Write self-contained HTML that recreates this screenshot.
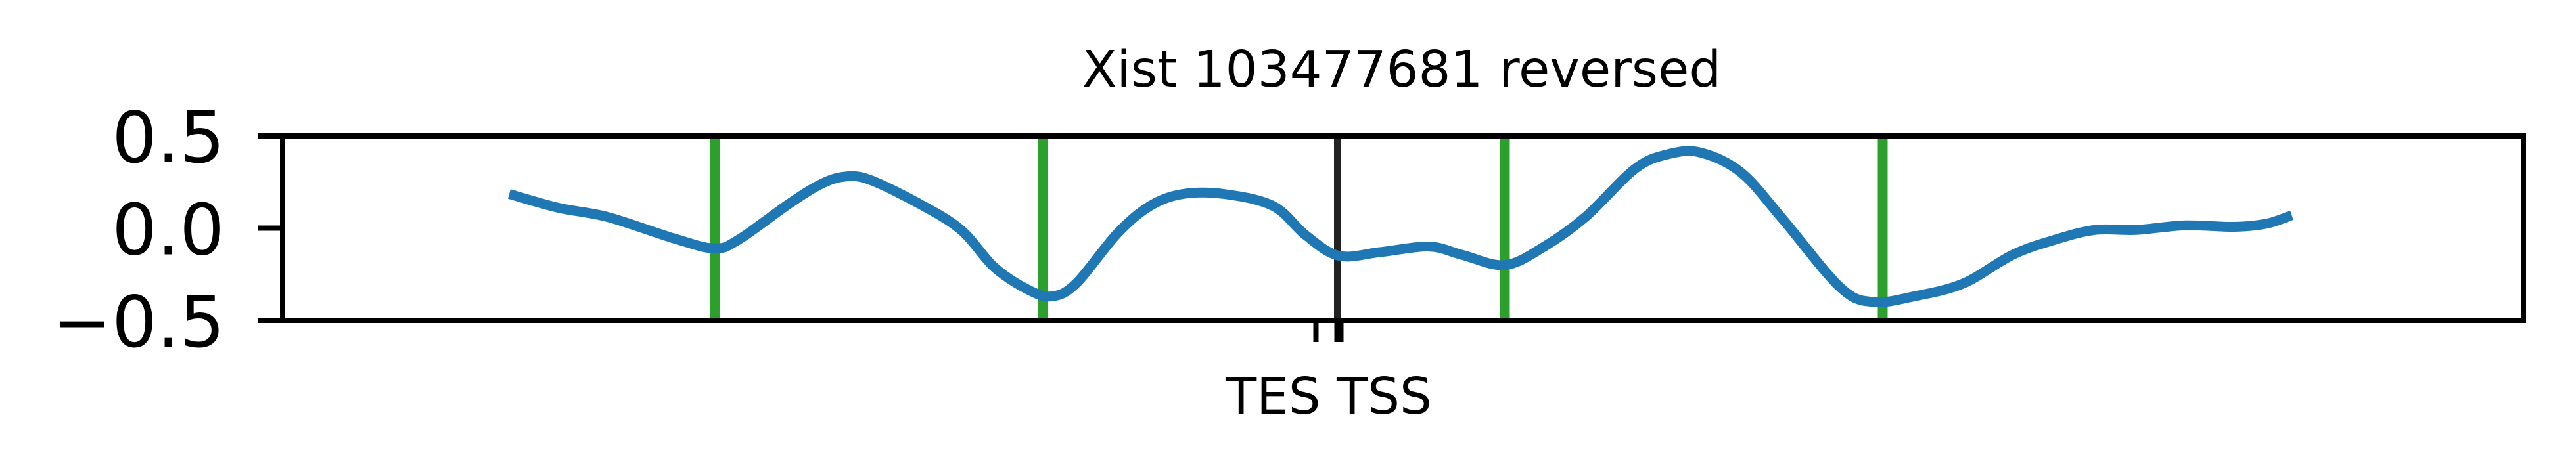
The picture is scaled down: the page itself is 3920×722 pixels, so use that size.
<!DOCTYPE html>
<html><head><meta charset="utf-8"><style>
html,body{margin:0;padding:0;background:#fff}
svg{display:block}
text{font-family:"DejaVu Sans","Liberation Sans",sans-serif;fill:#000}
</style></head><body>
<svg id="chart" width="3920" height="722" viewBox="0 0 3920 722" xmlns="http://www.w3.org/2000/svg">
<text x="2133" y="132" font-size="77" text-anchor="middle">Xist 103477681 reversed</text>
<g id="plot"></g>
</svg>
<script>
const xs = [138,168,198,238,263,278,308,328,343,358,388,413,433,453,468,483,508,528,548,573,603,623,643,668,698,718,744,768,793,823,843,863,888,913,948,968,993,1023,1053,1078,1103,1128,1158,1188,1208,1223];
const ys = [0.185,0.11,0.06,-0.055,-0.11,-0.06,0.13,0.24,0.28,0.26,0.13,-0.01,-0.21,-0.33,-0.37,-0.3,-0.03,0.12,0.185,0.185,0.12,-0.04,-0.15,-0.13,-0.1,-0.145,-0.2,-0.1,0.06,0.32,0.4,0.41,0.3,0.05,-0.32,-0.4,-0.37,-0.3,-0.145,-0.065,-0.01,-0.01,0.015,0.007,0.025,0.07];
const greenLines = [263,463,744,974];
const blackLines = [642];
const yTicks = [0.5,0.0,-0.5];
const yTickLabels = ["0.5","0.0","\u22120.5"];
const xTicks = [629,643];
const xTickLabels = ["TES","TSS"];

const L=430,R=3840,T=207,B=488;
const xMin=0,xMax=1364,yMin=-0.5,yMax=0.5;
const sx=v=>L+(v-xMin)/(xMax-xMin)*(R-L);
const sy=v=>B-(v-yMin)/(yMax-yMin)*(B-T);
const NS="http://www.w3.org/2000/svg";
const g=document.getElementById('plot');
function mk(tag,attrs){const e=document.createElementNS(NS,tag);for(const k in attrs)e.setAttribute(k,attrs[k]);g.appendChild(e);return e;}

greenLines.forEach(v=>{
  const e=mk('line',{x1:sx(v),x2:sx(v),y1:T,y2:B,stroke:'#2ca02c','stroke-width':15});
  
  
});
blackLines.forEach(v=>{
  const e=mk('line',{x1:sx(v),x2:sx(v),y1:T,y2:B,stroke:'#222','stroke-width':10});
  
  
});
const P=xs.map((x,i)=>[sx(x),sy(ys[i])]);
let d='M'+P[0][0].toFixed(1)+','+P[0][1].toFixed(1);
for(let i=0;i<P.length-1;i++){
  const p0=P[Math.max(0,i-1)],p1=P[i],p2=P[i+1],p3=P[Math.min(P.length-1,i+2)];
  const c1=[p1[0]+(p2[0]-p0[0])/6,p1[1]+(p2[1]-p0[1])/6];
  const c2=[p2[0]-(p3[0]-p1[0])/6,p2[1]-(p3[1]-p1[1])/6];
  d+=' C'+c1[0].toFixed(1)+','+c1[1].toFixed(1)+' '+c2[0].toFixed(1)+','+c2[1].toFixed(1)+' '+p2[0].toFixed(1)+','+p2[1].toFixed(1);
}
const line=mk('path',{d:d,fill:'none',stroke:'#1f77b4','stroke-width':15,'stroke-linejoin':'round'});



const frame=mk('rect',{x:L,y:T,width:R-L,height:B-T,fill:'none',stroke:'#000','stroke-width':8});



yTicks.forEach((v,i)=>{
  const t=mk('line',{x1:L-37,x2:L,y1:sy(v),y2:sy(v),stroke:'#000','stroke-width':8});
  
  
  const lb=mk('text',{x:342,y:sy(v)+40,'font-size':108,'text-anchor':'end'});
  lb.textContent=yTickLabels[i];
  
  
});
xTicks.forEach((v,i)=>{
  const t=mk('line',{x1:sx(v),x2:sx(v),y1:B,y2:B+33,stroke:'#000','stroke-width':i==1?14:8});
  
  
});
const xl=mk('text',{x:2022,y:630,'font-size':77,'text-anchor':'middle'});
xl.textContent=xTickLabels.join(' ');


</script>
</body></html>
